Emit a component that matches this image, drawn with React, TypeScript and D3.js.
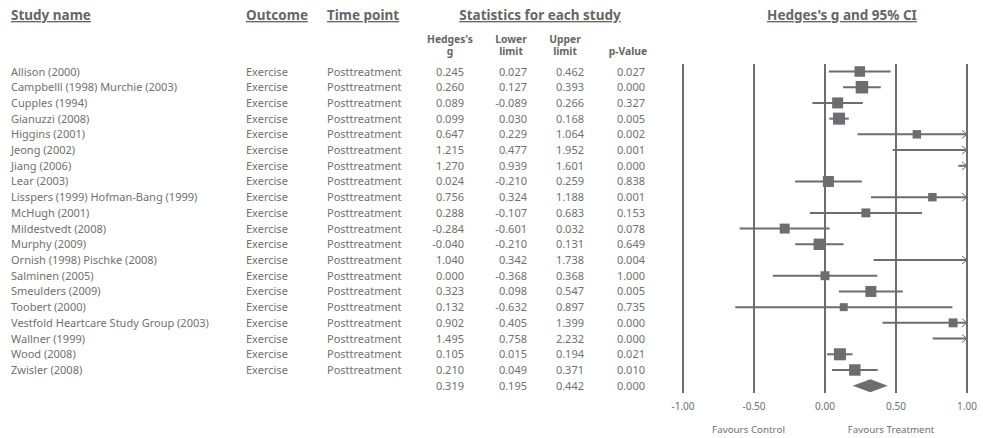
import React from "react";
import * as d3 from "d3";

// Study table
const studies = [
  "Allison (2000)",
  "Campbelll (1998) Murchie (2003)",
  "Cupples (1994)",
  "Gianuzzi (2008)",
  "Higgins (2001)",
  "Jeong (2002)",
  "Jiang (2006)",
  "Lear (2003)",
  "Lisspers (1999) Hofman-Bang (1999)",
  "McHugh (2001)",
  "Mildestvedt (2008)",
  "Murphy (2009)",
  "Ornish (1998) Pischke (2008)",
  "Salminen (2005)",
  "Smeulders (2009)",
  "Toobert (2000)",
  "Vestfold Heartcare Study Group (2003)",
  "Wallner (1999)",
  "Wood (2008)",
  "Zwisler (2008)",
];
const outcomes = studies.map(() => "Exercise");
const timePoints = studies.map(() => "Posttreatment");
const hedgesG = [0.245, 0.26, 0.089, 0.099, 0.647, 1.215, 1.27, 0.024, 0.756, 0.288, -0.284, -0.04, 1.04, 0.0, 0.323, 0.132, 0.902, 1.495, 0.105, 0.21];
const lowerLimit = [0.027, 0.127, -0.089, 0.03, 0.229, 0.477, 0.939, -0.21, 0.324, -0.107, -0.601, -0.21, 0.342, -0.368, 0.098, -0.632, 0.405, 0.758, 0.015, 0.049];
const upperLimit = [0.462, 0.393, 0.266, 0.168, 1.064, 1.952, 1.601, 0.259, 1.188, 0.683, 0.032, 0.131, 1.738, 0.368, 0.547, 0.897, 1.399, 2.232, 0.194, 0.371];
const pValues = [0.027, 0.0, 0.327, 0.005, 0.002, 0.001, 0.0, 0.838, 0.001, 0.153, 0.078, 0.649, 0.004, 1.0, 0.005, 0.735, 0.0, 0.0, 0.021, 0.01];
// Relative study weights (%)
const weights = [5.6, 7.9, 6.1, 7.3, 3.6, 3.2, 4.0, 6.1, 3.6, 4.0, 5.0, 6.6, 2.5, 4.0, 6.1, 3.2, 4.0, 3.2, 7.3, 6.6];

// Pooled estimate
const summaryG = 0.319;
const summaryLower = 0.195;
const summaryUpper = 0.442;
const summaryP = 0.0;

const axisTicks = [-1, -0.5, 0, 0.5, 1];
const favourLabels = ["Favours Control", "Favours Treatment"];

const W = 983;
const H = 438;
const FONT = "'Noto Sans', 'Open Sans', sans-serif";
const TEXT = "#707070";
const HEAD = "#666666";
const INK = "#6c6c71";

// plain hyphen-minus for negatives
const locale = d3.formatLocale({
  decimal: ".",
  thousands: ",",
  grouping: [3],
  currency: ["", ""],
  minus: "-",
});
const fmt = locale.format(".3f");
const fmtAxis = locale.format(".2f");

export default function App() {
  const x = d3.scaleLinear().domain([-1, 1]).range([683, 967]);
  const y = d3
    .scaleLinear()
    .domain([0, studies.length])
    .range([71.5, 71.5 + studies.length * 15.71]);
  const size = d3.scaleSqrt().domain([0, d3.max(weights)!]).range([0, 12.5]);

  const [xMin, xMax] = x.domain();
  const plotTop = 64;
  const plotBottom = 393;

  const headerY = 20;
  const sub1 = 42.5;
  const sub2 = 55;

  const colG = 464;
  const colL = 527;
  const colU = 584;
  const colP = 645;

  const textRow = (i: number) => y(i) + 4;
  const n = studies.length;

  const hdr = (label: string, xPos: number, anchor: "start" | "middle") => (
    <text
      x={xPos}
      y={headerY}
      fontSize={13.5}
      fontWeight="bold"
      fill={HEAD}
      textAnchor={anchor}
      textDecoration="underline"
    >
      {label}
    </text>
  );

  return (
    <svg
      width={W}
      height={H}
      style={{ position: "absolute", left: 0, top: 0, background: "#fff" }}
      fontFamily={FONT}
    >
      {hdr("Study name", 11, "start")}
      {hdr("Outcome", 246, "start")}
      {hdr("Time point", 327, "start")}
      {hdr("Statistics for each study", 540, "middle")}
      {hdr("Hedges's g and 95% CI", 842, "middle")}

      <g fontSize={10.3} fontWeight="bold" fill={HEAD} textAnchor="middle">
        <text x={450} y={sub1}>Hedges's</text>
        <text x={450} y={sub2}>g</text>
        <text x={511} y={sub1}>Lower</text>
        <text x={511} y={sub2}>limit</text>
        <text x={565} y={sub1}>Upper</text>
        <text x={565} y={sub2}>limit</text>
        <text x={628} y={sub2}>p-Value</text>
      </g>

      <g fontSize={11} fill={TEXT}>
        {studies.map((s, i) => (
          <g key={s}>
            <text x={11} y={textRow(i)}>{s}</text>
            <text x={246} y={textRow(i)}>{outcomes[i]}</text>
            <text x={327} y={textRow(i)}>{timePoints[i]}</text>
            <text x={colG} y={textRow(i)} textAnchor="end">{fmt(hedgesG[i])}</text>
            <text x={colL} y={textRow(i)} textAnchor="end">{fmt(lowerLimit[i])}</text>
            <text x={colU} y={textRow(i)} textAnchor="end">{fmt(upperLimit[i])}</text>
            <text x={colP} y={textRow(i)} textAnchor="end">{fmt(pValues[i])}</text>
          </g>
        ))}
        <text x={colG} y={textRow(n)} textAnchor="end">{fmt(summaryG)}</text>
        <text x={colL} y={textRow(n)} textAnchor="end">{fmt(summaryLower)}</text>
        <text x={colU} y={textRow(n)} textAnchor="end">{fmt(summaryUpper)}</text>
        <text x={colP} y={textRow(n)} textAnchor="end">{fmt(summaryP)}</text>
      </g>

      {/* reference lines */}
      <g stroke={INK} strokeWidth={2}>
        {axisTicks.map((t) => (
          <line key={t} x1={x(t)} x2={x(t)} y1={plotTop} y2={plotBottom} />
        ))}
      </g>

      {/* confidence intervals and point estimates */}
      <g>
        {studies.map((s, i) => {
          const lo = Math.max(lowerLimit[i], xMin);
          const hi = Math.min(upperLimit[i], xMax);
          const yy = y(i);
          const side = size(weights[i]);
          const g = hedgesG[i];
          return (
            <g key={s}>
              <line x1={x(lo)} x2={x(hi)} y1={yy} y2={yy} stroke={INK} strokeWidth={2} />
              {upperLimit[i] > xMax && (
                <path
                  d={`M${x(xMax) - 5},${yy - 4}L${x(xMax)},${yy}L${x(xMax) - 5},${yy + 4}`}
                  fill="none"
                  stroke={INK}
                  strokeWidth={1}
                />
              )}
              {lowerLimit[i] < xMin && (
                <path
                  d={`M${x(xMin) + 5},${yy - 4}L${x(xMin)},${yy}L${x(xMin) + 5},${yy + 4}`}
                  fill="none"
                  stroke={INK}
                  strokeWidth={1}
                />
              )}
              {g >= xMin && g <= xMax && (
                <rect
                  x={x(g) - side / 2}
                  y={yy - side / 2}
                  width={side}
                  height={side}
                  fill={INK}
                />
              )}
            </g>
          );
        })}
        <path
          d={`M${x(summaryLower)},${y(n)}L${x(summaryG)},${y(n) - 6.5}L${x(summaryUpper)},${y(n)}L${x(summaryG)},${y(n) + 6.5}Z`}
          fill={INK}
        />
      </g>

      <g fontSize={10} fill={TEXT} textAnchor="middle">
        {axisTicks.map((t) => (
          <text key={t} x={x(t)} y={409.5}>{fmtAxis(t)}</text>
        ))}
      </g>
      <g fontSize={9.8} fill={TEXT} textAnchor="middle">
        <text x={748.5} y={432.5}>{favourLabels[0]}</text>
        <text x={891} y={432.5}>{favourLabels[1]}</text>
      </g>
    </svg>
  );
}
